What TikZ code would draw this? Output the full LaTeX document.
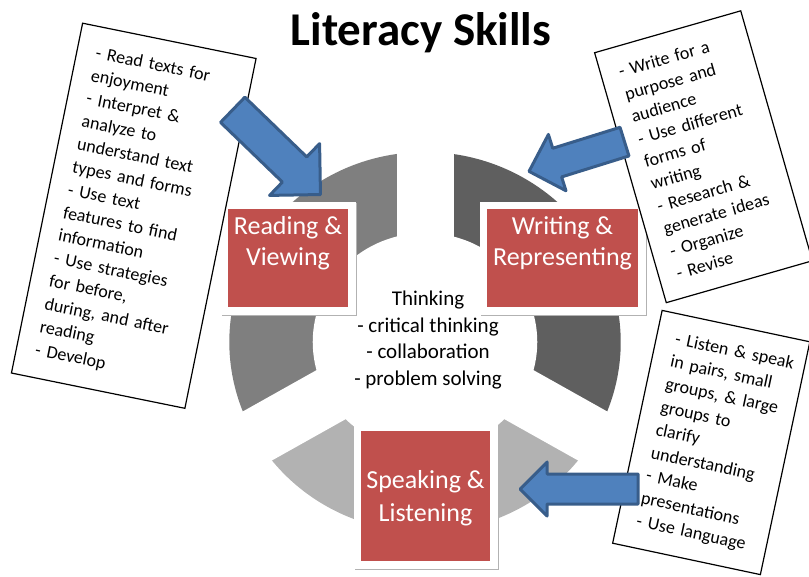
\documentclass[tikz,border=0pt]{standalone}
\usepackage{fontspec}
\setmainfont{Carlito}
\usetikzlibrary{shapes.arrows, positioning}

\definecolor{boxred}{HTML}{C0504D}
\definecolor{arrowblue}{HTML}{4F81BD}
\definecolor{arrowline}{HTML}{385D8A}
\definecolor{ringdark}{HTML}{5F5F5F}
\definecolor{ringmid}{HTML}{7F7F7F}
\definecolor{ringlight}{HTML}{B2B2B2}

\tikzset{
	lblbox/.style={fill=boxred, draw=white, line width=7.5pt, inner sep=0pt, text=white, align=center,
		font=\fontsize{26}{31}\selectfont,
		preaction={fill=black!30, draw=black!30, line width=7.5pt, transform canvas={shift={(1.5pt,-1.5pt)}}}},
	notebox/.style={draw=black, line width=1.2pt, fill=white, inner ysep=0pt, align=left,
		font=\fontsize{18}{23.3}\selectfont},
	blockarrow/.style={single arrow, draw=arrowline, fill=arrowblue, line width=3pt, line join=round,
		inner xsep=0pt, minimum width=0pt, single arrow head indent=0pt}
}

\begin{document}
\begin{tikzpicture}[x=1pt, y=-1pt]
	\useasboundingbox (0,0) rectangle (809,576);
	
	%// the ring, cut in three
	\begin{scope}[shift={(425,342)}, yscale=-1, xscale=1.03]
		\fill[ringdark] (0,0) -- (-30:190) arc[start angle=-30, end angle=90, radius=190] -- cycle;
		\fill[ringmid] (0,0) -- (90:190) arc[start angle=90, end angle=210, radius=190] -- cycle;
		\fill[ringlight] (0,0) -- (210:190) arc[start angle=210, end angle=330, radius=190] -- cycle;
		\fill[white] (0,0) circle[radius=109];
		\foreach \a in {90,210,330}
		\draw[white, line width=57pt] (0,0) -- (\a:205);
	\end{scope}
	
	\node[font=\fontsize{47}{50}\selectfont\bfseries, anchor=base] (title) at (421,45) {Literacy Skills};
	
	%// skill boxes
	\node[lblbox, minimum width=127.5, minimum height=105.5, text depth=34pt] (read) at (288,258) {Reading \&\\Viewing};
	\node[lblbox, minimum width=158.5, minimum height=105.5, text depth=34pt] (write) at (562.5,258) {Writing \&\\Representing};
	\node[lblbox, minimum width=136.5, minimum height=137.5, text depth=0pt, font=\fontsize{26}{33}\selectfont] (speak) at (425.5,496) {Speaking \&\\Listening};
	
	\node[font=\fontsize{21}{26.5}\selectfont, align=center] (think) at (428,340)
	{Thinking\\- critical thinking\\- collaboration\\- problem solving};
	
	%// notes
	\node[notebox, rotate=-11.5, text width=139pt, inner xsep=19pt, minimum height=357] (notesR) at (133.75,215.75)
	{- Read texts for\\enjoyment\\- Interpret \&\\analyze to\\understand text\\types and forms\\- Use text\\features to find\\information\\- Use strategies\\for before,\\during, and after\\reading\\- Develop};
	\node[notebox, rotate=16, text width=116pt, inner xsep=18pt, minimum height=260] (notesW) at (703.5,156.75)
	{- Write for a\\purpose and\\audience\\- Use different\\forms of\\writing\\- Research \&\\generate ideas\\- Organize\\- Revise};
	\node[notebox, rotate=-12, text width=113pt, inner xsep=19pt, minimum height=238] (notesS) at (711.25,442.5)
	{\mbox{- Listen \& speak}\\in pairs, small\\\mbox{groups, \& large}\\groups to\\clarify\\understanding\\- Make\\presentations\\- Use language};
	
	%// arrows
	\node[blockarrow, minimum height=122, inner ysep=16pt, single arrow head extend=18.5pt, rotate=-44, anchor=tip] (arrR) at (322,196) {};
	\node[blockarrow, minimum height=100, inner ysep=13.5pt, single arrow head extend=14.5pt, rotate=197.3, anchor=tip] (arrW) at (527,172) {};
	\node[blockarrow, minimum height=118, inner ysep=13.5pt, single arrow head extend=12pt, rotate=180, anchor=tip] (arrS) at (518,489) {};
	
\end{tikzpicture}
\end{document}
